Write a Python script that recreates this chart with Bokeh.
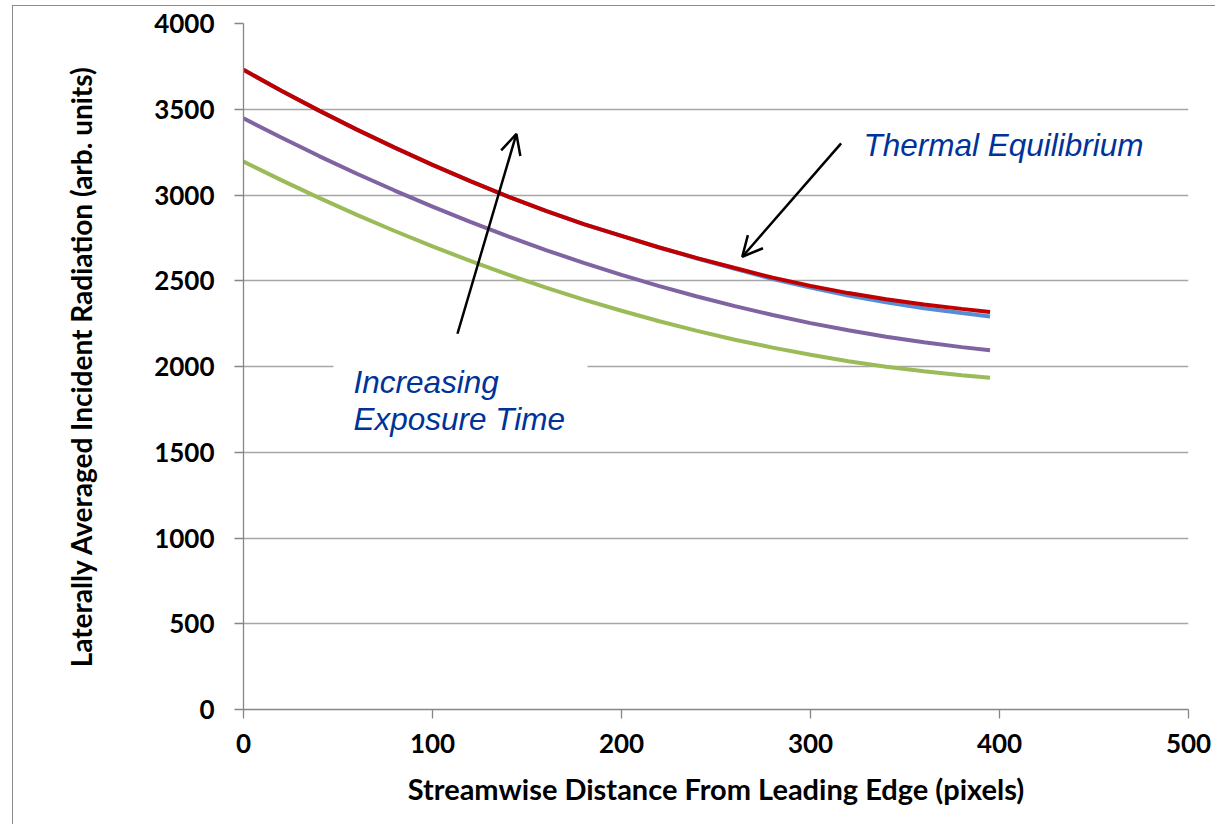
from bokeh.plotting import figure
from bokeh.models import FixedTicker, Range1d, Arrow, OpenHead, Label, ColumnDataSource
from bokeh.embed import file_html
from bokeh.resources import INLINE

# Streamwise distance (pixels)
distance = [0, 20, 40, 60, 80, 100, 120, 140, 160, 180, 200, 220, 240, 260, 280, 300, 320, 340, 360, 380, 395]
# Laterally averaged incident radiation (arb. units), four exposure times
series_green = [3195, 3087, 2983, 2884, 2790, 2700, 2616, 2536, 2460, 2390, 2325, 2264, 2208, 2156, 2110, 2068, 2031, 1999, 1972, 1949, 1935]
series_purple = [3447, 3335, 3227, 3124, 3026, 2932, 2843, 2759, 2679, 2604, 2534, 2469, 2408, 2352, 2300, 2253, 2211, 2174, 2141, 2113, 2095]
series_blue = [3730, 3608, 3492, 3381, 3276, 3176, 3081, 2991, 2907, 2830, 2762, 2694, 2630, 2570, 2510, 2460, 2414, 2374, 2340, 2312, 2292]
series_red = [3730, 3608, 3492, 3381, 3276, 3176, 3081, 2991, 2907, 2830, 2762, 2694, 2632, 2574, 2518, 2470, 2428, 2392, 2361, 2336, 2318]

x_ticks = [0, 100, 200, 300, 400, 500]
y_ticks = [0, 500, 1000, 1500, 2000, 2500, 3000, 3500, 4000]

x_title = "Streamwise Distance From Leading Edge (pixels)"
y_title = "Laterally Averaged Incident Radiation (arb. units)"
note_top = "Thermal Equilibrium"
note_low = ["Increasing", "Exposure Time"]

src = ColumnDataSource(dict(x=distance, g=series_green, p=series_purple, b=series_blue, r=series_red))

p = figure(width=1203, height=819, output_backend="svg", toolbar_location=None,
           x_range=Range1d(0, 500), y_range=Range1d(0, 4000),
           min_border_left=230, min_border_right=28, min_border_top=17, min_border_bottom=116)
p.styles = {"margin-left": "12px", "margin-top": "5px",
            "border-left": "1px solid #8c8c8c", "border-top": "1px solid #8c8c8c"}
p.outline_line_color = None
p.background_fill_color = "white"
p.border_fill_color = "white"

p.xgrid.visible = False
p.ygrid.grid_line_color = "#a6a6a6"
p.ygrid.grid_line_width = 1.5

p.xaxis.ticker = FixedTicker(ticks=x_ticks)
p.yaxis.ticker = FixedTicker(ticks=y_ticks)
for ax in (p.xaxis[0], p.yaxis[0]):
    ax.axis_line_color = "#868686"
    ax.axis_line_width = 1.3
    ax.major_tick_line_color = "#868686"
    ax.major_tick_line_width = 1.3
    ax.major_tick_out = 9
    ax.major_tick_in = 0
    ax.minor_tick_line_color = None
    ax.major_label_text_font = "Lato"
    ax.major_label_text_font_style = "bold"
    ax.major_label_text_font_size = "26px"
    ax.major_label_text_color = "black"
    ax.axis_label_text_font = "Lato"
    ax.axis_label_text_font_style = "bold"
    ax.axis_label_text_color = "black"
p.xaxis.axis_label_text_font_size = "29px"
p.yaxis.axis_label_text_font_size = "28px"
p.xaxis.axis_label = x_title
p.yaxis.axis_label = y_title
p.xaxis.major_label_standoff = 15
p.yaxis.major_label_standoff = 20
p.xaxis.axis_label_standoff = 15
p.yaxis.axis_label_standoff = 53

# white box behind the lower note
p.quad(left=47.6, right=182, bottom=1538, top=2092, fill_color="white", line_color=None)

p.line("x", "g", source=src, line_color="#9BBB59", line_width=4)
p.line("x", "p", source=src, line_color="#8064A2", line_width=4)
p.line("x", "b", source=src, line_color="#558ED5", line_width=4)
p.line("x", "r", source=src, line_color="#C00000", line_width=4)

note_color = "#003399"
note_font = "Liberation Sans"
p.add_layout(Label(x=328, y=3294, text=note_top, text_font=note_font,
                   text_font_style="italic", text_font_size="31.5px", text_color=note_color,
                   text_baseline="alphabetic"))
p.add_layout(Label(x=58.2, y=1911, text=note_low[0], text_font=note_font,
                   text_font_style="italic", text_font_size="31.5px", text_color=note_color,
                   text_baseline="alphabetic"))
p.add_layout(Label(x=58.2, y=1693, text=note_low[1], text_font=note_font,
                   text_font_style="italic", text_font_size="31.5px", text_color=note_color,
                   text_baseline="alphabetic"))

p.add_layout(Arrow(x_start=113.2, y_start=2191, x_end=144.4, y_end=3356,
                   line_width=2.5, line_color="black",
                   end=OpenHead(size=20, line_width=2.5, line_color="black")))
p.add_layout(Arrow(x_start=316.2, y_start=3301, x_end=263.9, y_end=2640,
                   line_width=2.5, line_color="black",
                   end=OpenHead(size=20, line_width=2.5, line_color="black")))

open("out.html", "w").write(file_html(p, INLINE))
